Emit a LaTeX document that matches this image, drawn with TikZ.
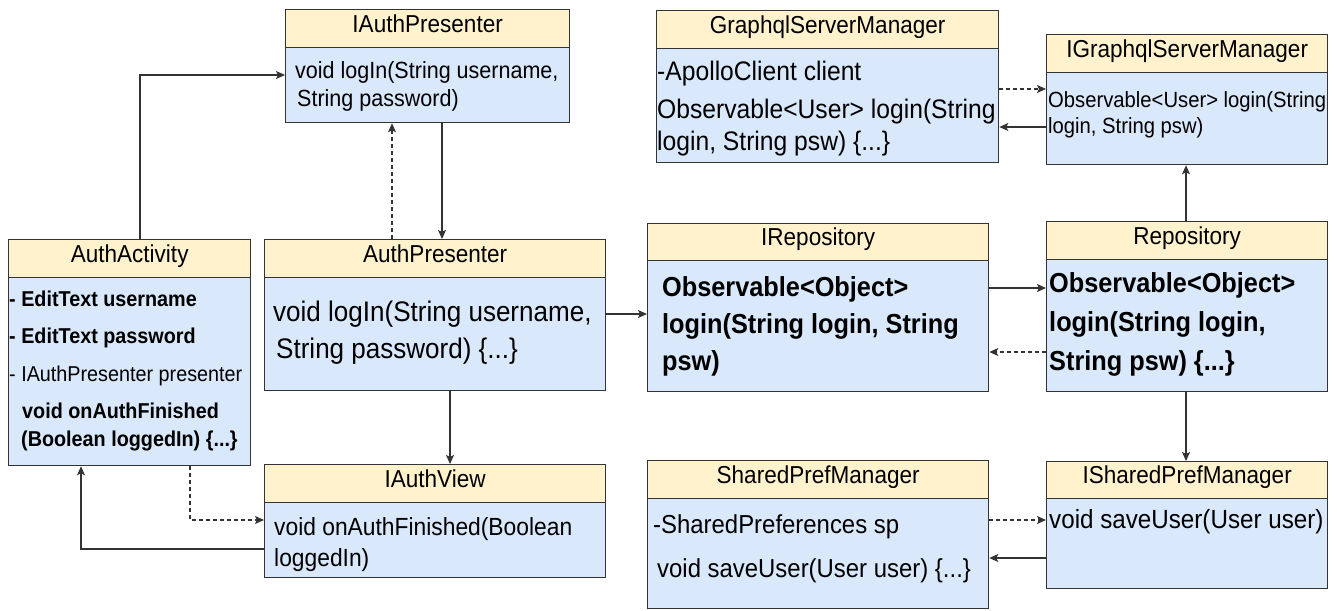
\documentclass[tikz,border=0pt]{standalone}
\usepackage{fontspec}
\setmainfont{Liberation Sans}[FakeStretch=0.92]
\usetikzlibrary{arrows.meta}
\definecolor{hdrfill}{HTML}{FFF2CC}
\definecolor{bdyfill}{HTML}{DAE8FC}
\definecolor{edgec}{HTML}{333333}
\newcommand\fsz[1]{\fontsize{#1}{#1}\selectfont}
\newcommand\umlbox[7]{%
  \node[bdy, minimum width=#5-#2, minimum height=#6-#4] (#1b) at (#2,#4) {};
  \node[hdr, minimum width=#5-#2, minimum height=#4-#3] (#1) at (#2,#3) {#7};
}
\tikzset{
  hdr/.style={draw=edgec, line width=1.3pt, fill=hdrfill, anchor=north west, inner sep=0pt,
    text height=0.716em, text depth=0pt, font=\fsz{24.5}},
  bdy/.style={draw=edgec, line width=1.3pt, fill=bdyfill, anchor=north west, inner sep=0pt},
  ln/.style={anchor=base west, inner sep=0pt},
  arr/.style={draw=edgec, line width=1.3pt, -{Stealth[length=9pt,width=8pt,inset=2pt]}},
  darr/.style={arr, dash pattern=on 4pt off 3pt},
}
\begin{document}
\begin{tikzpicture}[x=1pt, y=-1pt]
\useasboundingbox (0,0) rectangle (1337,610);

% boxes
\umlbox{aa}{8}{239}{277}{250}{465}{AuthActivity}
\umlbox{iap}{285}{9}{47}{569}{122}{IAuthPresenter}
\umlbox{ap}{264}{239}{277}{605}{390}{AuthPresenter}
\umlbox{iav}{264}{464}{502}{605}{577}{IAuthView}
\umlbox{ir}{647}{223}{260}{988}{391}{IRepository}
\umlbox{rp}{1046}{221}{259}{1327}{391}{Repository}
\umlbox{gs}{656}{10}{48}{998}{162}{GraphqlServerManager}
\umlbox{ig}{1046}{34}{72}{1327}{164}{IGraphqlServerManager}
\umlbox{sp}{647}{460}{498}{988}{608}{SharedPrefManager}
\umlbox{isp}{1046}{461}{498}{1327}{588}{ISharedPrefManager}

% AuthActivity
\node[ln, font=\bfseries\fsz{21.5}] (aa1) at (9,306) {- EditText username};
\node[ln, font=\bfseries\fsz{21.5}] (aa2) at (9,343) {- EditText password};
\node[ln, font=\fsz{21.5}] (aa3) at (9,381) {- IAuthPresenter presenter};
\node[ln, font=\bfseries\fsz{21.5}] (aa4) at (22,418) {void onAuthFinished};
\node[ln, font=\bfseries\fsz{21.5}] (aa5) at (21,446) {(Boolean loggedIn) \{...\}};

% IAuthPresenter
\node[ln, font=\fsz{23.4}] (iap1) at (295,78) {void logIn(String username,};
\node[ln, font=\fsz{23.4}] (iap2) at (297,106) {String password)};

% AuthPresenter
\node[ln, font=\fsz{28.3}] (ap1) at (273,321) {void logIn(String username,};
\node[ln, font=\fsz{28.3}] (ap2) at (276,358) {String password) \{...\}};

% IAuthView
\node[ln, font=\fsz{24.8}] (iav1) at (274,535) {void onAuthFinished(Boolean};
\node[ln, font=\fsz{24.8}] (iav2) at (274,566) {loggedIn)};

% IRepository
\node[ln, font=\bfseries\fsz{27.5}] (ir1) at (662,296) {Observable<Object>};
\node[ln, font=\bfseries\fsz{27.5}] (ir2) at (662,333) {login(String login, String};
\node[ln, font=\bfseries\fsz{27.5}] (ir3) at (662,370) {psw)};

% Repository
\node[ln, font=\bfseries\fsz{27.5}] (rp1) at (1049,292) {Observable<Object>};
\node[ln, font=\bfseries\fsz{27.5}] (rp2) at (1049,331) {login(String login,};
\node[ln, font=\bfseries\fsz{27.5}] (rp3) at (1049,370) {String psw) \{...\}};

% GraphqlServerManager
\node[ln, font=\fsz{26.8}] (gs1) at (657,80) {-ApolloClient client};
\node[ln, font=\fsz{26.8}] (gs2) at (657,118) {Observable<User> login(String};
\node[ln, font=\fsz{26.8}] (gs3) at (657,150) {login, String psw) \{...\}};

% IGraphqlServerManager
\node[ln, font=\fsz{22}] (ig1) at (1048,107) {Observable<User> login(String};
\node[ln, font=\fsz{22}] (ig2) at (1048,133) {login, String psw)};

% SharedPrefManager
\node[ln, font=\fsz{26}] (sp1) at (653,533) {-SharedPreferences sp};
\node[ln, font=\fsz{26}] (sp2) at (657,577) {void saveUser(User user) \{...\}};

% ISharedPrefManager
\node[ln, font=\fsz{26.3}] (isp1) at (1049,528) {void saveUser(User user)};

% connectors
\coordinate (p1) at (140,75);
\draw[arr] (aa.north -| p1) -- (p1) -- (iapb.west |- p1);
\coordinate (p2) at (392,0);
\draw[darr] (ap.north -| p2) -- (iapb.south -| p2);
\coordinate (p3) at (442,0);
\draw[arr] (iapb.south -| p3) -- (ap.north -| p3);
\coordinate (p4) at (450,0);
\draw[arr] (apb.south -| p4) -- (iav.north -| p4);
\coordinate (p5) at (190,520);
\draw[darr] (aab.south -| p5) -- (p5) -- (iavb.west |- p5);
\coordinate (p6) at (81,549);
\draw[arr] (iavb.west |- p6) -- (p6) -- (aab.south -| p6);
\coordinate (p7) at (0,314);
\draw[arr] (apb.east |- p7) -- (irb.west |- p7);
\coordinate (p8) at (0,288);
\draw[arr] (irb.east |- p8) -- (rpb.west |- p8);
\coordinate (p9) at (0,352);
\draw[darr] (rpb.west |- p9) -- (irb.east |- p9);
\coordinate (p10) at (1186,0);
\draw[arr] (rp.north -| p10) -- (igb.south -| p10);
\draw[arr] (rpb.south -| p10) -- (isp.north -| p10);
\coordinate (p11) at (0,89);
\draw[darr] (gsb.east |- p11) -- (igb.west |- p11);
\coordinate (p12) at (0,127);
\draw[arr] (igb.west |- p12) -- (gsb.east |- p12);
\coordinate (p13) at (0,520);
\draw[darr] (spb.east |- p13) -- (ispb.west |- p13);
\coordinate (p14) at (0,558);
\draw[arr] (ispb.west |- p14) -- (spb.east |- p14);
\end{tikzpicture}
\end{document}
